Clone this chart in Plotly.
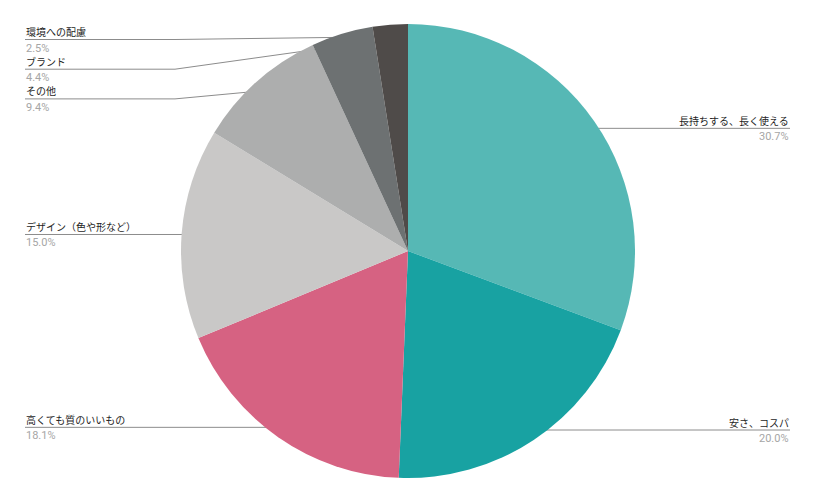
import math
import plotly.graph_objects as go

# ---- data ----
labels = ["長持ちする、長く使える", "安さ、コスパ", "高くても質のいいもの",
          "デザイン（色や形など）", "その他", "ブランド", "環境への配慮"]
values = [30.7, 20.0, 18.1, 15.0, 9.4, 4.4, 2.5]
colors = ["#56b8b5", "#18a2a2", "#d66282", "#c9c8c7", "#adaeae", "#6d7172", "#4f4b49"]

# ---- layout constants (pixels) ----
W, H = 816, 504
CX, CY, R = 408, 251, 227
DOT_R = 0.947 * R
LEFT_X, RIGHT_X = 25, 790
ELBOW_LEFT, ELBOW_RIGHT = 175, 640
MIN_Y, GAP = 39.5, 29.7
FONT = "Noto Sans CJK JP, Roboto, Arial, sans-serif"

fig = go.Figure()
fig.add_trace(go.Pie(
    labels=labels, values=values, sort=False, direction="clockwise", rotation=0,
    marker=dict(colors=colors, line=dict(width=0)), textinfo="none",
    hoverinfo="label+percent", showlegend=False,
    domain=dict(x=[(CX - R) / W, (CX + R) / W], y=[1 - (CY + R) / H, 1 - (CY - R) / H]),
))

# compute dot positions from the data
total = sum(values)
cum = 0
items = []
for lab, v in zip(labels, values):
    mid = (cum + v / 2) / total * 2 * math.pi
    cum += v
    dx = CX + DOT_R * math.sin(mid)
    dy = CY - DOT_R * math.cos(mid)
    items.append(dict(label=lab, value=v, x=dx, y=dy, right=math.sin(mid) > 0))

annotations = []
for side in (True, False):
    group = sorted([it for it in items if it["right"] == side], key=lambda d: d["y"])
    prev = -1e9
    for it in group:
        ly = max(it["y"], prev + GAP, MIN_Y)
        prev = ly
        endx = RIGHT_X if side else LEFT_X
        if abs(ly - it["y"]) < 0.5:
            xs, ys = [it["x"], endx], [it["y"], it["y"]]
        else:
            ex = ELBOW_RIGHT if side else ELBOW_LEFT
            xs, ys = [it["x"], ex, endx], [it["y"], ly, ly]
        fig.add_trace(go.Scatter(x=xs, y=ys, mode="lines", line=dict(color="#8c8c8c", width=1),
                                 hoverinfo="skip", showlegend=False, xaxis="x", yaxis="y"))
        fig.add_trace(go.Scatter(x=[it["x"]], y=[it["y"]], mode="markers",
                                 marker=dict(color="#9a9a9a", size=4), hoverinfo="skip",
                                 showlegend=False, xaxis="x", yaxis="y"))
        anchor = "right" if side else "left"
        annotations.append(dict(x=endx, y=ly - 8, xref="x", yref="y", text=it["label"],
                                showarrow=False, xanchor=anchor, yanchor="middle",
                                borderpad=0,
                                font=dict(family=FONT, size=10, color="#1e1e1e")))
        annotations.append(dict(x=endx, y=ly + 8.5, xref="x", yref="y",
                                text=f"{it['value']:.1f}%", showarrow=False,
                                xanchor=anchor, yanchor="middle", borderpad=0,
                                font=dict(family="Roboto, Arial, sans-serif", size=11, color="#a6a6a6")))

fig.update_layout(
    width=W, height=H, margin=dict(l=0, r=0, t=0, b=0),
    paper_bgcolor="white", plot_bgcolor="rgba(0,0,0,0)",
    xaxis=dict(range=[0, W], visible=False, fixedrange=True),
    yaxis=dict(range=[H, 0], visible=False, fixedrange=True),
    annotations=annotations, font=dict(family=FONT),
)
fig.write_html("out.html", config={"displayModeBar": False},
               post_script="document.body.style.margin='0';")
